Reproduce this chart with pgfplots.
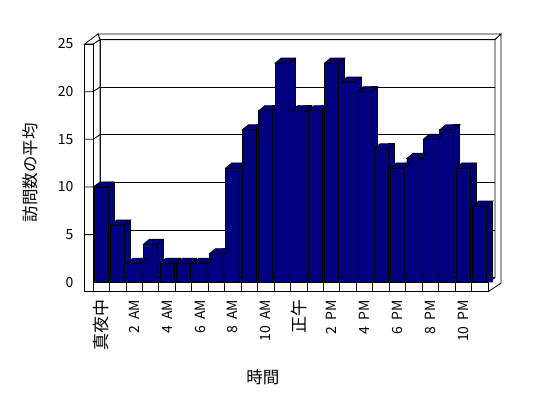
\documentclass[border=0pt]{standalone}
\usepackage{pgfplots}
\pgfplotsset{compat=1.18}
\usepackage{pgfplotstable}
\usepackage{fontspec}
\setmainfont{Noto Sans CJK JP}
\definecolor{barnavy}{RGB}{0,0,128}
\pgfdeclareplotmark{bartop}{%
  \pgfpathmoveto{\pgfpoint{-7pt}{0pt}}%
  \pgfpathlineto{\pgfpoint{7pt}{0pt}}%
  \pgfpathlineto{\pgfpoint{13pt}{5pt}}%
  \pgfpathlineto{\pgfpoint{-1pt}{5pt}}%
  \pgfpathclose
  \pgfusepathqfillstroke}
\pgfplotstableread{
c v
0 10
1 6
2 2
3 4
4 2
5 2
6 2
7 3
8 12
9 16
10 18
11 23
12 18
13 18
14 23
15 21
16 20
17 14
18 12
19 13
20 15
21 16
22 12
23 8
}\visits
\newcommand{\cjkbig}{\fontsize{17}{19}\selectfont}
\newcommand{\wsp}{\hspace{0.45em}}
\begin{document}
\begin{tikzpicture}[x=1pt,y=1pt]
\path[fill=white,use as bounding box] (0,0) rectangle (548,398);
\begin{scope}[line width=0.8pt, line join=miter, draw=black]
  % back wall inner face
  \filldraw[fill=white] (100,120.3) rectangle (495,358.3);
  % back wall top face
  \filldraw[fill=white] (98,364) -- (501,364) -- (495,358.3) -- (100,358.3) -- cycle;
  % right side (back wall edge and floor side)
  \filldraw[fill=white] (495,358.3) -- (501,364) -- (501,114.7) -- (488,106.3) -- (488,115.7) -- (495,120.3) -- cycle;
  % left wall inner face
  \filldraw[fill=white] (93,115.7) -- (93,354) -- (100,358.3) -- (100,120.3) -- cycle;
  % left wall top face
  \filldraw[fill=white] (84.7,354) -- (98,364) -- (100,358.3) -- (93,354) -- cycle;
  % floor front face
  \filldraw[fill=white] (84.7,106.3) rectangle (488,115.7);
  \foreach \k in {1,...,23} \draw ({93+16.4583*\k},106.3) -- ({93+16.4583*\k},115.7);
  % left wall front face
  \filldraw[fill=white] (84.7,106.3) rectangle (93,354);
  \foreach \v in {5,10,15,20} \draw (84.7,{115.7+9.532*\v}) -- (93,{115.7+9.532*\v}) -- (100,{120.3+9.532*\v});
\end{scope}
\begin{axis}[
  at={(101.229pt,115.7pt)}, anchor=origin,
  scale only axis, width=395pt, height=238.3pt,
  xmin=-0.5, xmax=23.5, ymin=0, ymax=25,
  clip=false,
  axis line style={draw=none},
  major tick length=0pt,
  ytick={0,5,...,25},
  ymajorgrids,
  major grid style={black, line width=0.8pt, xshift=7pt, yshift=4.6pt},
  xtick={0,2,...,22},
  xticklabels={{\cjkbig 真夜中},2\wsp AM,4\wsp AM,6\wsp AM,8\wsp AM,10\wsp AM,{\cjkbig 正午},2\wsp PM,4\wsp PM,6\wsp PM,8\wsp PM,10\wsp PM},
  xticklabel style={rotate=90, anchor=east, font=\fontsize{14}{16}\selectfont},
  xticklabel shift=14pt,
  yticklabel style={anchor=east, font=\fontsize{14}{16}\selectfont},
  yticklabel shift=16pt,
  /pgf/number format/assume math mode=true,
  xlabel={時間}, ylabel={訪問数の平均},
  xlabel style={at={(axis description cs:0.43,-0.40)}, anchor=center, font=\fontsize{16.5}{18}\selectfont},
  ylabel style={at={(axis description cs:-0.159,0.459)}, anchor=center, font=\fontsize{16.5}{18}\selectfont},
  every axis plot/.append style={line width=0.8pt},
]
\addplot[ybar, bar width=6pt, bar shift=10pt, fill=barnavy, draw=none] table[x=c,y=v]{\visits};
\addplot[ybar, bar width=6pt, bar shift=10pt, fill=barnavy, draw=black, yshift=5pt] table[x=c,y=v]{\visits};
\addplot[ybar, bar width=14pt, bar shift=0pt, fill=barnavy, draw=black, mark=bartop, mark options={fill=barnavy, draw=black}] table[x=c,y=v]{\visits};
\addplot[ybar, bar width=14pt, bar shift=0pt, fill=barnavy, draw=black] table[x=c,y=v]{\visits};
\end{axis}
\end{tikzpicture}
\end{document}
